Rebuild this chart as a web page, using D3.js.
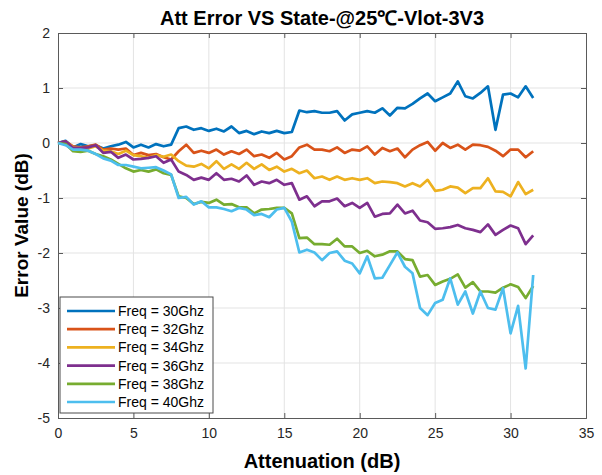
<!DOCTYPE html>
<html>
<head>
<meta charset="utf-8">
<script src="https://cdnjs.cloudflare.com/ajax/libs/d3/7.8.5/d3.min.js"></script>
<style>
    body { margin: 0; background: #fff; }
    svg { display: block; font-family: Arial, "Liberation Sans", sans-serif; }
</style>
</head>
<body>
<svg class="svg" width="602" height="475"></svg>
<script>
// attenuation states, 0.5 dB step
var attenuation = [0, 0.5, 1, 1.5, 2, 2.5, 3, 3.5, 4, 4.5, 5, 5.5, 6, 6.5, 7, 7.5,
    8, 8.5, 9, 9.5, 10, 10.5, 11, 11.5, 12, 12.5, 13, 13.5, 14, 14.5, 15, 15.5,
    16, 16.5, 17, 17.5, 18, 18.5, 19, 19.5, 20, 20.5, 21, 21.5, 22, 22.5, 23, 23.5,
    24, 24.5, 25, 25.5, 26, 26.5, 27, 27.5, 28, 28.5, 29, 29.5, 30, 30.5, 31, 31.5];

var freqLabels = ['Freq = 30Ghz', 'Freq = 32Ghz', 'Freq = 34Ghz', 'Freq = 36Ghz', 'Freq = 38Ghz', 'Freq = 40Ghz'];
var colors = ['#0072BD', '#D95319', '#EDB120', '#7E2F8E', '#77AC30', '#4DBEEE'];

var err30 = [0, 0.04, -0.08, -0.02, -0.06, -0.04, -0.10, -0.06, -0.03, 0.02, -0.08, -0.03, -0.08, -0.02, -0.06, -0.03,
    0.27, 0.30, 0.24, 0.27, 0.22, 0.26, 0.21, 0.30, 0.18, 0.22, 0.16, 0.21, 0.18, 0.22, 0.18, 0.20,
    0.59, 0.56, 0.58, 0.55, 0.55, 0.58, 0.41, 0.52, 0.55, 0.58, 0.55, 0.63, 0.50, 0.64, 0.63, 0.71,
    0.81, 0.90, 0.76, 0.83, 0.90, 1.12, 0.85, 0.81, 0.91, 1.03, 0.24, 0.88, 0.90, 0.83, 1.03, 0.82];
var err32 = [0, 0.03, -0.06, -0.08, -0.06, -0.03, -0.12, -0.10, -0.12, -0.10, -0.22, -0.18, -0.22, -0.20, -0.26, -0.30,
    -0.15, -0.03, -0.18, -0.14, -0.18, -0.12, -0.21, -0.15, -0.20, -0.12, -0.24, -0.21, -0.27, -0.18, -0.30, -0.24,
    -0.08, -0.03, -0.12, -0.12, -0.15, -0.08, -0.18, -0.12, -0.14, -0.06, -0.21, -0.09, -0.15, -0.10, -0.26, -0.12,
    -0.04, 0.02, -0.14, 0.00, -0.09, -0.03, -0.12, -0.03, -0.04, -0.07, -0.14, -0.24, -0.12, -0.12, -0.26, -0.15];
var err34 = [0, 0.02, -0.08, -0.09, -0.10, -0.06, -0.14, -0.15, -0.20, -0.14, -0.22, -0.24, -0.27, -0.22, -0.25, -0.21,
    -0.33, -0.41, -0.43, -0.38, -0.46, -0.33, -0.47, -0.39, -0.47, -0.36, -0.47, -0.39, -0.49, -0.43, -0.52, -0.47,
    -0.55, -0.50, -0.64, -0.61, -0.67, -0.61, -0.67, -0.64, -0.67, -0.64, -0.73, -0.70, -0.71, -0.73, -0.79, -0.73,
    -0.79, -0.67, -0.87, -0.85, -0.79, -0.81, -0.91, -0.82, -0.82, -0.64, -0.88, -0.89, -0.97, -0.71, -0.93, -0.85];
var err36 = [0, 0.03, -0.09, -0.09, -0.08, -0.04, -0.18, -0.16, -0.27, -0.21, -0.30, -0.29, -0.27, -0.24, -0.36, -0.30,
    -0.52, -0.58, -0.67, -0.63, -0.67, -0.55, -0.67, -0.65, -0.70, -0.59, -0.76, -0.70, -0.73, -0.67, -0.76, -0.73,
    -1.03, -0.97, -1.15, -1.06, -1.06, -1.01, -1.15, -1.09, -1.18, -1.09, -1.34, -1.29, -1.28, -1.12, -1.28, -1.23,
    -1.41, -1.44, -1.56, -1.55, -1.53, -1.49, -1.55, -1.58, -1.62, -1.48, -1.67, -1.58, -1.50, -1.55, -1.84, -1.68];
var err38 = [0, -0.02, -0.15, -0.16, -0.14, -0.20, -0.24, -0.30, -0.38, -0.46, -0.52, -0.49, -0.52, -0.48, -0.55, -0.58,
    -0.97, -1.00, -1.11, -1.07, -1.09, -1.03, -1.12, -1.11, -1.17, -1.17, -1.28, -1.21, -1.20, -1.18, -1.18, -1.28,
    -1.73, -1.72, -1.84, -1.84, -1.85, -1.74, -1.88, -1.88, -2.00, -1.96, -2.06, -2.03, -1.97, -1.97, -2.11, -2.13,
    -2.43, -2.40, -2.58, -2.52, -2.47, -2.39, -2.63, -2.53, -2.70, -2.70, -2.72, -2.63, -2.57, -2.62, -2.82, -2.60];
var err40 = [0, -0.04, -0.12, -0.12, -0.14, -0.20, -0.28, -0.32, -0.40, -0.40, -0.43, -0.46, -0.45, -0.44, -0.50, -0.57,
    -1.00, -0.98, -1.12, -1.06, -1.17, -1.17, -1.20, -1.24, -1.18, -1.21, -1.31, -1.29, -1.35, -1.21, -1.18, -1.43,
    -1.99, -1.94, -1.99, -2.13, -2.00, -1.97, -2.14, -2.19, -2.37, -2.06, -2.46, -2.45, -2.22, -1.99, -2.25, -2.37,
    -3.00, -3.13, -2.91, -2.85, -2.46, -2.94, -2.70, -3.10, -2.70, -3.00, -3.03, -2.64, -3.46, -2.96, -4.10, -2.40];

var xTicks = [0, 5, 10, 15, 20, 25, 30, 35];
var yTicks = [-5, -4, -3, -2, -1, 0, 1, 2];

drawChart();

function drawChart() {
    var svg = d3.select(".svg");
    var margin = {top: 33, right: 16, bottom: 57, left: 58};
    var width = 602 - margin.left - margin.right;
    var height = 475 - margin.top - margin.bottom;

    svg.append('rect').attr('width', 602).attr('height', 475).attr('fill', '#fff');

    var g = svg.append('g').attr('transform', 'translate(' + margin.left + ',' + margin.top + ')');

    var x = d3.scaleLinear()
        .domain([0, 35])
        .range([0, width]);

    var y = d3.scaleLinear()
        .domain([-5, 2])
        .range([height, 0]);

    // grid lines
    g.append('g').selectAll('line')
        .data(xTicks.slice(1, -1))
        .enter().append('line')
        .attr('x1', (d) => x(d)).attr('x2', (d) => x(d))
        .attr('y1', 0).attr('y2', height)
        .attr('stroke', '#e3e3e3').attr('stroke-width', 1);

    g.append('g').selectAll('line')
        .data(yTicks.slice(1, -1))
        .enter().append('line')
        .attr('x1', 0).attr('x2', width)
        .attr('y1', (d) => y(d)).attr('y2', (d) => y(d))
        .attr('stroke', '#e3e3e3').attr('stroke-width', 1);

    var fmt = (d) => String(d);

    // axes with inward ticks, box on all four sides
    var xAxis = g.append('g')
        .attr('transform', 'translate(0,' + height + ')')
        .call(d3.axisBottom(x).tickValues(xTicks).tickSize(-5).tickPadding(10).tickFormat(fmt));
    var yAxis = g.append('g')
        .call(d3.axisLeft(y).tickValues(yTicks).tickSize(-5).tickPadding(8).tickFormat(fmt));
    var topAxis = g.append('g')
        .call(d3.axisTop(x).tickValues(xTicks).tickSize(-5).tickFormat(''));
    var rightAxis = g.append('g')
        .attr('transform', 'translate(' + width + ',0)')
        .call(d3.axisRight(y).tickValues(yTicks).tickSize(-5).tickFormat(''));

    [xAxis, yAxis, topAxis, rightAxis].forEach((a) => {
        a.select('.domain').attr('stroke', '#5a5a5a');
        a.selectAll('.tick line').attr('stroke', '#5a5a5a');
        a.selectAll('.tick text').attr('fill', '#262626').style('font-size', '14px');
    });

    // series
    var series = [err30, err32, err34, err36, err38, err40];

    var line = d3.line()
        .x((d, i) => x(attenuation[i]))
        .y((d) => y(d));

    g.append('g').selectAll('path')
        .data(series)
        .enter().append('path')
        .attr('d', line)
        .attr('fill', 'none')
        .attr('stroke', (d, i) => colors[i])
        .attr('stroke-width', 2.7)
        .attr('stroke-linejoin', 'round');

    // legend
    var legend = g.append('g').attr('transform', 'translate(2,' + (height - 121) + ')');
    legend.append('rect')
        .attr('width', 153).attr('height', 116)
        .attr('fill', '#fff').attr('stroke', '#4a4a4a').attr('stroke-width', 1);
    var items = legend.selectAll('.item')
        .data(freqLabels)
        .enter().append('g')
        .attr('transform', (d, i) => 'translate(0,' + (14 + i * 18.2) + ')');
    items.append('line')
        .attr('x1', 7).attr('x2', 55)
        .attr('stroke', (d, i) => colors[i]).attr('stroke-width', 2.7);
    items.append('text')
        .attr('x', 58).attr('dy', '0.35em')
        .style('font-size', '14px').attr('fill', '#000')
        .text((d) => d);

    // title and axis labels
    svg.append('text')
        .attr('x', margin.left + width / 2).attr('y', 25)
        .attr('text-anchor', 'middle')
        .style('font-size', '20px').style('font-weight', 'bold')
        .text('Att Error VS State-@25℃-Vlot-3V3');

    svg.append('text')
        .attr('x', margin.left + width / 2).attr('y', 468)
        .attr('text-anchor', 'middle')
        .style('font-size', '20px').style('font-weight', 'bold')
        .text('Attenuation (dB)');

    svg.append('text')
        .attr('transform', 'translate(28,' + (margin.top + height / 2) + ') rotate(-90)')
        .attr('text-anchor', 'middle')
        .style('font-size', '19px').style('font-weight', 'bold')
        .text('Error Value (dB)');
}
</script>
</body>
</html>
